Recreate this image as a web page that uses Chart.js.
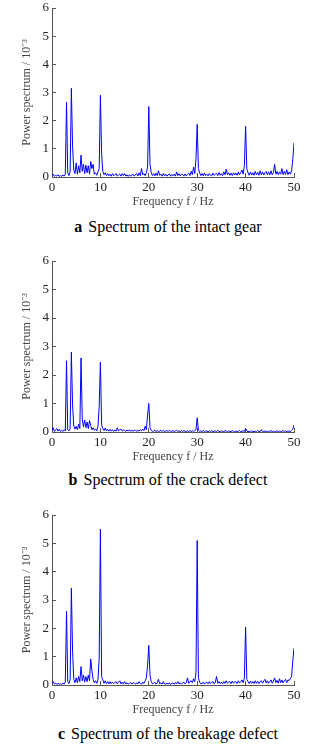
<!DOCTYPE html>
<html>
<head>
<meta charset="utf-8">
<script src="https://cdn.jsdelivr.net/npm/chart.js@4.4.1/dist/chart.umd.min.js"></script>
<style>
  html, body { margin:0; padding:0; background:#fff; width:327px; height:747px; overflow:hidden; }
  canvas { position:absolute; left:0; }
  .cap { position:absolute; left:0; width:336px; text-align:center; font-family:"Liberation Serif","Times New Roman",serif; font-size:16px; line-height:18px; color:#000; }
  .cap b { margin-right:6px; }
</style>
</head>
<body>
<canvas id="ca" width="327" height="210" style="top:0px"></canvas>
<div class="cap" style="top:218px"><b>a</b>Spectrum of the intact gear</div>
<canvas id="cb" width="327" height="212" style="top:253px"></canvas>
<div class="cap" style="top:471px"><b>b</b>Spectrum of the crack defect</div>
<canvas id="cc" width="327" height="211" style="top:507px"></canvas>
<div class="cap" style="top:725px"><b>c</b>Spectrum of the breakage defect</div>
<script>
const freqHz = [
 0,0.25,0.5,0.75, 1,1.25,1.5,1.75, 2,2.25,2.5,2.75, 3,3.25,3.5,3.75, 4,4.25,4.5,4.75,
 5,5.25,5.5,5.75, 6,6.25,6.5,6.75, 7,7.25,7.5,7.75, 8,8.25,8.5,8.75, 9,9.25,9.5,9.75,
 10,10.25,10.5,10.75, 11,11.25,11.5,11.75, 12,12.25,12.5,12.75, 13,13.25,13.5,13.75, 14,14.25,14.5,14.75,
 15,15.25,15.5,15.75, 16,16.25,16.5,16.75, 17,17.25,17.5,17.75, 18,18.25,18.5,18.75, 19,19.25,19.5,19.75,
 20,20.25,20.5,20.75, 21,21.25,21.5,21.75, 22,22.25,22.5,22.75, 23,23.25,23.5,23.75, 24,24.25,24.5,24.75,
 25,25.25,25.5,25.75, 26,26.25,26.5,26.75, 27,27.25,27.5,27.75, 28,28.25,28.5,28.75, 29,29.25,29.5,29.75,
 30,30.25,30.5,30.75, 31,31.25,31.5,31.75, 32,32.25,32.5,32.75, 33,33.25,33.5,33.75, 34,34.25,34.5,34.75,
 35,35.25,35.5,35.75, 36,36.25,36.5,36.75, 37,37.25,37.5,37.75, 38,38.25,38.5,38.75, 39,39.25,39.5,39.75,
 40,40.25,40.5,40.75, 41,41.25,41.5,41.75, 42,42.25,42.5,42.75, 43,43.25,43.5,43.75, 44,44.25,44.5,44.75,
 45,45.25,45.5,45.75, 46,46.25,46.5,46.75, 47,47.25,47.5,47.75, 48,48.25,48.5,48.75, 49,49.25,49.5,49.75,
 50
];

const intactGear = [
 0.05,0.10,0.02,0.06, 0.03,0.08,0.02,0.05, 0.02,0.07,0.03,0.10, 2.65,0.15,0.05,0.20, 3.15,1.10,0.25,0.12,
 0.50,0.10,0.40,0.15, 0.78,0.20,0.45,0.12, 0.42,0.15,0.40,0.10, 0.55,0.30,0.45,0.10, 0.15,0.06,0.18,0.30,
 2.90,0.80,0.20,0.08, 0.15,0.05,0.12,0.04, 0.10,0.03,0.12,0.04, 0.09,0.12,0.03,0.08, 0.10,0.03,0.12,0.05,
 0.12,0.03,0.08,0.02, 0.08,0.03,0.07,0.10, 0.03,0.09,0.12,0.04, 0.15,0.05,0.30,0.08, 0.12,0.05,0.16,0.35,
 2.50,0.45,0.15,0.05, 0.12,0.04,0.14,0.05, 0.22,0.06,0.10,0.03, 0.12,0.04,0.10,0.03, 0.08,0.11,0.03,0.09,
 0.04,0.10,0.03,0.18, 0.05,0.12,0.04,0.10, 0.09,0.03,0.11,0.04, 0.10,0.14,0.05,0.20, 0.08,0.35,0.12,0.65,
 1.87,0.30,0.15,0.05, 0.12,0.04,0.14,0.05, 0.10,0.04,0.12,0.06, 0.04,0.14,0.06,0.10, 0.13,0.05,0.16,0.06,
 0.12,0.05,0.18,0.08, 0.28,0.08,0.15,0.06, 0.14,0.05,0.15,0.07, 0.14,0.06,0.18,0.08, 0.16,0.25,0.10,0.40,
 1.80,0.30,0.15,0.06, 0.18,0.07,0.15,0.06, 0.20,0.08,0.16,0.06, 0.22,0.08,0.18,0.07, 0.15,0.20,0.08,0.18,
 0.07,0.22,0.08,0.16, 0.45,0.10,0.20,0.08, 0.18,0.10,0.30,0.08, 0.20,0.09,0.26,0.08, 0.18,0.10,0.22,0.62,
 1.22
];

const crackDefect = [
 0.05,0.15,0.02,0.08, 0.12,0.03,0.10,0.02, 0.06,0.02,0.08,0.04, 2.50,0.08,0.04,0.12, 2.80,0.95,0.22,0.10,
 0.20,0.08,0.28,0.12, 2.60,0.45,0.18,0.42, 0.15,0.35,0.12,0.40, 0.22,0.08,0.15,0.06, 0.10,0.04,0.20,0.90,
 2.45,0.25,0.12,0.05, 0.14,0.04,0.10,0.03, 0.09,0.03,0.08,0.02, 0.07,0.03,0.15,0.04, 0.08,0.10,0.03,0.07,
 0.06,0.02,0.07,0.03, 0.08,0.02,0.06,0.03, 0.05,0.07,0.02,0.06, 0.03,0.08,0.04,0.10, 0.05,0.20,0.08,0.60,
 1.00,0.15,0.06,0.02, 0.04,0.06,0.02,0.05, 0.02,0.03,0.06,0.02, 0.05,0.02,0.03,0.05, 0.02,0.06,0.03,0.02,
 0.05,0.02,0.04,0.06, 0.02,0.04,0.01,0.05, 0.02,0.05,0.03,0.02, 0.04,0.01,0.05,0.02, 0.04,0.02,0.05,0.08,
 0.50,0.06,0.02,0.04, 0.02,0.05,0.01,0.04, 0.03,0.01,0.04,0.02, 0.05,0.01,0.03,0.04, 0.02,0.06,0.02,0.01,
 0.04,0.02,0.01,0.05, 0.03,0.01,0.04,0.02, 0.01,0.05,0.02,0.01, 0.04,0.01,0.03,0.05, 0.01,0.03,0.04,0.02,
 0.12,0.04,0.01,0.03, 0.01,0.04,0.02,0.01, 0.03,0.01,0.05,0.02, 0.01,0.08,0.02,0.01, 0.04,0.01,0.03,0.01,
 0.03,0.05,0.01,0.03, 0.01,0.03,0.04,0.01, 0.03,0.01,0.03,0.05, 0.01,0.04,0.01,0.03, 0.03,0.01,0.06,0.10,
 0.25
];

const breakageDefect = [
 0.08,0.12,0.03,0.07, 0.02,0.06,0.02,0.05, 0.02,0.07,0.03,0.10, 2.60,0.12,0.05,0.20, 3.42,1.20,0.20,0.08,
 0.25,0.08,0.30,0.12, 0.65,0.15,0.35,0.10, 0.30,0.12,0.35,0.15, 0.92,0.50,0.20,0.08, 0.15,0.06,0.18,0.95,
 5.50,0.30,0.18,0.06, 0.15,0.05,0.12,0.04, 0.12,0.04,0.10,0.05, 0.09,0.12,0.04,0.10, 0.15,0.04,0.10,0.03,
 0.12,0.04,0.08,0.03, 0.06,0.09,0.03,0.08, 0.07,0.03,0.08,0.04, 0.12,0.05,0.03,0.10, 0.06,0.15,0.25,0.70,
 1.40,0.35,0.12,0.04, 0.06,0.10,0.03,0.08, 0.20,0.04,0.08,0.03, 0.12,0.04,0.03,0.07, 0.03,0.08,0.02,0.06,
 0.07,0.03,0.09,0.04, 0.12,0.04,0.08,0.03, 0.07,0.10,0.04,0.08, 0.25,0.06,0.12,0.15, 0.08,0.22,0.12,0.45,
 5.10,0.25,0.10,0.04, 0.06,0.10,0.03,0.08, 0.10,0.04,0.12,0.05, 0.09,0.12,0.04,0.10, 0.30,0.06,0.12,0.05,
 0.10,0.04,0.12,0.06, 0.15,0.06,0.10,0.12, 0.05,0.14,0.06,0.12, 0.11,0.05,0.15,0.07, 0.12,0.18,0.08,0.25,
 2.05,0.20,0.12,0.05, 0.14,0.06,0.12,0.05, 0.15,0.06,0.13,0.05, 0.12,0.15,0.06,0.14, 0.20,0.07,0.15,0.06,
 0.12,0.18,0.06,0.14, 0.25,0.08,0.16,0.06, 0.22,0.08,0.18,0.07, 0.15,0.20,0.08,0.18, 0.16,0.22,0.30,0.85,
 1.30
];

const xTitle = 'Frequency f / Hz';
const yTitle = 'Power spectrum / 10\u207B\u00B3';

const FONT = '"Liberation Serif", "Times New Roman", serif';

function makeChart(id, values) {
  const pts = freqHz.map((f, i) => ({ x: f, y: values[i] }));
  return new Chart(document.getElementById(id), {
    type: 'line',
    data: { datasets: [{ data: pts, borderColor: 'rgb(0,0,255)', borderWidth: 1, pointRadius: 0, tension: 0, fill: false }] },
    options: {
      responsive: false,
      animation: false,
      events: [],
      layout: { padding: { top: 8, right: 33, left: 0, bottom: 0 } },
      plugins: { legend: { display: false }, tooltip: { enabled: false } },
      scales: {
        x: {
          type: 'linear', min: 0, max: 50,
          afterFit: s => { s.height = 33; s.paddingLeft = 0; s.paddingRight = 0; },
          ticks: { stepSize: 10, color: '#222', padding: 7, maxRotation: 0, font: { family: FONT, size: 13 } },
          grid: { display: true, drawOnChartArea: false, drawTicks: true, tickLength: -4, color: '#555' },
          border: { display: true, color: '#555', width: 1 },
          title: { display: true, text: xTitle, color: '#444', padding: { top: 0, bottom: 1 }, font: { family: FONT, size: 12 } }
        },
        y: {
          min: 0, max: 6,
          afterFit: s => { s.width = 52; s.paddingTop = 0; s.paddingBottom = 0; },
          ticks: { stepSize: 1, color: '#222', padding: 7, font: { family: FONT, size: 13 } },
          grid: { display: true, drawOnChartArea: false, drawTicks: true, tickLength: -4, color: '#555' },
          border: { display: true, color: '#555', width: 1 },
          title: { display: true, text: yTitle, color: '#444', padding: { top: 20, bottom: 0 }, font: { family: FONT, size: 12 } }
        }
      }
    }
  });
}

makeChart('ca', intactGear);
makeChart('cb', crackDefect);
makeChart('cc', breakageDefect);
</script>
</body>
</html>
